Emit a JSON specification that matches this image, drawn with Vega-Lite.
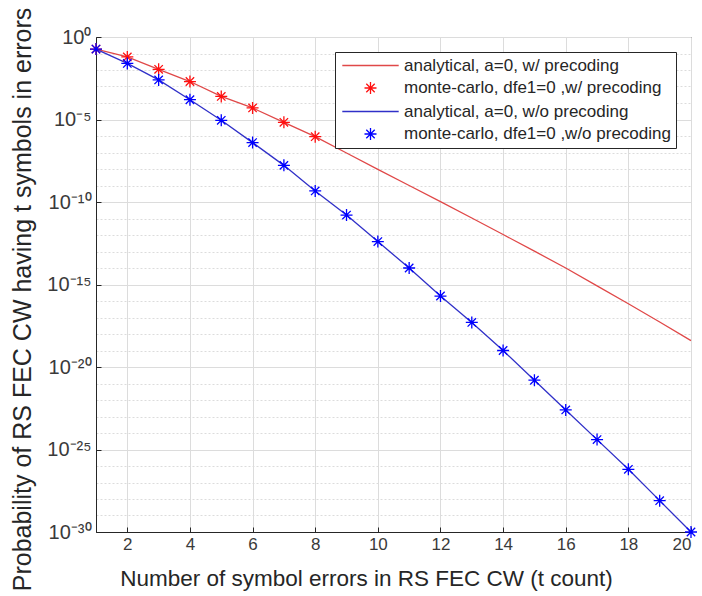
{
  "$schema": "https://vega.github.io/schema/vega-lite/v6.json",
  "width": 595,
  "height": 495,
  "autosize": "none",
  "padding": {"left": 96, "top": 37, "right": 11, "bottom": 64},
  "background": "white",
  "config": {
    "font": "Liberation Sans",
    "view": {"stroke": "#262626", "strokeWidth": 1},
    "legend": {
      "orient": "none", "legendX": 239, "legendY": 15,
      "labelFontSize": 17, "labelColor": "#262626", "labelLimit": 400,
      "strokeColor": "#262626", "fillColor": "white", "padding": 5,
      "symbolStrokeWidth": 1.3, "symbolSize": 144, "rowPadding": 4.5,
      "symbolOffset": 22, "labelOffset": 25
    }
  },
  "data": {"values": [
    {"t": 1, "p": 0.186, "series": "analytical, a=0, w/ precoding"},
    {"t": 2, "p": 0.0617, "series": "analytical, a=0, w/ precoding"},
    {"t": 3, "p": 0.011, "series": "analytical, a=0, w/ precoding"},
    {"t": 4, "p": 2.0e-3, "series": "analytical, a=0, w/ precoding"},
    {"t": 5, "p": 2.51e-4, "series": "analytical, a=0, w/ precoding"},
    {"t": 6, "p": 5.01e-5, "series": "analytical, a=0, w/ precoding"},
    {"t": 7, "p": 6.76e-6, "series": "analytical, a=0, w/ precoding"},
    {"t": 8, "p": 9.12e-7, "series": "analytical, a=0, w/ precoding"},
    {"t": 9, "p": 9.33e-8, "series": "analytical, a=0, w/ precoding"},
    {"t": 10, "p": 9.55e-9, "series": "analytical, a=0, w/ precoding"},
    {"t": 11, "p": 1.0e-9, "series": "analytical, a=0, w/ precoding"},
    {"t": 12, "p": 1.05e-10, "series": "analytical, a=0, w/ precoding"},
    {"t": 13, "p": 1.07e-11, "series": "analytical, a=0, w/ precoding"},
    {"t": 14, "p": 1.07e-12, "series": "analytical, a=0, w/ precoding"},
    {"t": 15, "p": 1.05e-13, "series": "analytical, a=0, w/ precoding"},
    {"t": 16, "p": 1.0e-14, "series": "analytical, a=0, w/ precoding"},
    {"t": 17, "p": 8.3e-16, "series": "analytical, a=0, w/ precoding"},
    {"t": 18, "p": 6.76e-17, "series": "analytical, a=0, w/ precoding"},
    {"t": 19, "p": 5.37e-18, "series": "analytical, a=0, w/ precoding"},
    {"t": 20, "p": 3.98e-19, "series": "analytical, a=0, w/ precoding"},
    {"t": 1, "p": 0.186, "series": "monte-carlo, dfe1=0 ,w/ precoding"},
    {"t": 2, "p": 0.0617, "series": "monte-carlo, dfe1=0 ,w/ precoding"},
    {"t": 3, "p": 0.011, "series": "monte-carlo, dfe1=0 ,w/ precoding"},
    {"t": 4, "p": 2.0e-3, "series": "monte-carlo, dfe1=0 ,w/ precoding"},
    {"t": 5, "p": 2.51e-4, "series": "monte-carlo, dfe1=0 ,w/ precoding"},
    {"t": 6, "p": 5.01e-5, "series": "monte-carlo, dfe1=0 ,w/ precoding"},
    {"t": 7, "p": 6.76e-6, "series": "monte-carlo, dfe1=0 ,w/ precoding"},
    {"t": 8, "p": 9.12e-7, "series": "monte-carlo, dfe1=0 ,w/ precoding"},
    {"t": 1, "p": 0.186, "series": "analytical, a=0, w/o precoding"},
    {"t": 2, "p": 0.0251, "series": "analytical, a=0, w/o precoding"},
    {"t": 3, "p": 2.51e-3, "series": "analytical, a=0, w/o precoding"},
    {"t": 4, "p": 1.58e-4, "series": "analytical, a=0, w/o precoding"},
    {"t": 5, "p": 8.91e-6, "series": "analytical, a=0, w/o precoding"},
    {"t": 6, "p": 3.98e-7, "series": "analytical, a=0, w/o precoding"},
    {"t": 7, "p": 1.66e-8, "series": "analytical, a=0, w/o precoding"},
    {"t": 8, "p": 4.68e-10, "series": "analytical, a=0, w/o precoding"},
    {"t": 9, "p": 1.62e-11, "series": "analytical, a=0, w/o precoding"},
    {"t": 10, "p": 3.98e-13, "series": "analytical, a=0, w/o precoding"},
    {"t": 11, "p": 1.0e-14, "series": "analytical, a=0, w/o precoding"},
    {"t": 12, "p": 2.0e-16, "series": "analytical, a=0, w/o precoding"},
    {"t": 13, "p": 5.01e-18, "series": "analytical, a=0, w/o precoding"},
    {"t": 14, "p": 1.0e-19, "series": "analytical, a=0, w/o precoding"},
    {"t": 15, "p": 1.58e-21, "series": "analytical, a=0, w/o precoding"},
    {"t": 16, "p": 2.51e-23, "series": "analytical, a=0, w/o precoding"},
    {"t": 17, "p": 3.98e-25, "series": "analytical, a=0, w/o precoding"},
    {"t": 18, "p": 6.31e-27, "series": "analytical, a=0, w/o precoding"},
    {"t": 19, "p": 7.94e-29, "series": "analytical, a=0, w/o precoding"},
    {"t": 20, "p": 1.0e-30, "series": "analytical, a=0, w/o precoding"},
    {"t": 1, "p": 0.186, "series": "monte-carlo, dfe1=0 ,w/o precoding"},
    {"t": 2, "p": 0.0251, "series": "monte-carlo, dfe1=0 ,w/o precoding"},
    {"t": 3, "p": 2.51e-3, "series": "monte-carlo, dfe1=0 ,w/o precoding"},
    {"t": 4, "p": 1.58e-4, "series": "monte-carlo, dfe1=0 ,w/o precoding"},
    {"t": 5, "p": 8.91e-6, "series": "monte-carlo, dfe1=0 ,w/o precoding"},
    {"t": 6, "p": 3.98e-7, "series": "monte-carlo, dfe1=0 ,w/o precoding"},
    {"t": 7, "p": 1.66e-8, "series": "monte-carlo, dfe1=0 ,w/o precoding"},
    {"t": 8, "p": 4.68e-10, "series": "monte-carlo, dfe1=0 ,w/o precoding"},
    {"t": 9, "p": 1.62e-11, "series": "monte-carlo, dfe1=0 ,w/o precoding"},
    {"t": 10, "p": 3.98e-13, "series": "monte-carlo, dfe1=0 ,w/o precoding"},
    {"t": 11, "p": 1.0e-14, "series": "monte-carlo, dfe1=0 ,w/o precoding"},
    {"t": 12, "p": 2.0e-16, "series": "monte-carlo, dfe1=0 ,w/o precoding"},
    {"t": 13, "p": 5.01e-18, "series": "monte-carlo, dfe1=0 ,w/o precoding"},
    {"t": 14, "p": 1.0e-19, "series": "monte-carlo, dfe1=0 ,w/o precoding"},
    {"t": 15, "p": 1.58e-21, "series": "monte-carlo, dfe1=0 ,w/o precoding"},
    {"t": 16, "p": 2.51e-23, "series": "monte-carlo, dfe1=0 ,w/o precoding"},
    {"t": 17, "p": 3.98e-25, "series": "monte-carlo, dfe1=0 ,w/o precoding"},
    {"t": 18, "p": 6.31e-27, "series": "monte-carlo, dfe1=0 ,w/o precoding"},
    {"t": 19, "p": 7.94e-29, "series": "monte-carlo, dfe1=0 ,w/o precoding"},
    {"t": 20, "p": 1.0e-30, "series": "monte-carlo, dfe1=0 ,w/o precoding"}
  ]},
  "encoding": {
    "x": {
      "field": "t", "type": "quantitative",
      "scale": {"domain": [1, 20], "nice": false, "zero": false},
      "axis": {
        "title": "Number of symbol errors in RS FEC CW (t count)",
        "values": [2, 4, 6, 8, 10, 12, 14, 16, 18, 20],
        "format": "d",
        "labelFontSize": 17, "labelColor": "#3a3a3a",
        "titleFontSize": 22.5, "titleFontWeight": "normal", "titleColor": "#262626",
        "titleX": 270, "titleY": 53, "titleBaseline": "alphabetic",
        "labelPadding": 9,
        "tickSize": -5, "tickColor": "#262626",
        "domainColor": "#262626",
        "grid": true, "gridColor": "#dcdcdc", "gridWidth": 1
      }
    },
    "y": {
      "field": "p", "type": "quantitative",
      "scale": {"type": "log", "domain": [1e-30, 1], "nice": false},
      "axis": {
        "title": "Probability of RS FEC CW having t symbols in errors",
        "values": [1, 1e-1, 1e-2, 1e-3, 1e-4, 1e-5, 1e-6, 1e-7, 1e-8, 1e-9, 1e-10, 1e-11, 1e-12, 1e-13, 1e-14, 1e-15, 1e-16, 1e-17, 1e-18, 1e-19, 1e-20, 1e-21, 1e-22, 1e-23, 1e-24, 1e-25, 1e-26, 1e-27, 1e-28, 1e-29, 1e-30],
        "labelExpr": "round(log(datum.value)/LN10) == 0 ? '10⁰' : round(log(datum.value)/LN10) == -5 ? '10⁻⁵' : round(log(datum.value)/LN10) == -10 ? '10⁻¹⁰' : round(log(datum.value)/LN10) == -15 ? '10⁻¹⁵' : round(log(datum.value)/LN10) == -20 ? '10⁻²⁰' : round(log(datum.value)/LN10) == -25 ? '10⁻²⁵' : round(log(datum.value)/LN10) == -30 ? '10⁻³⁰' : ''",
        "labelFontSize": 20, "labelColor": "#3a3a3a",
        "labelPadding": 10,
        "titleFontSize": 25, "titleFontWeight": "normal", "titleColor": "#262626",
        "titleX": -66, "titleY": 262, "titleBaseline": "alphabetic",
        "tickSize": -5, "tickColor": "#262626",
        "domainColor": "#262626",
        "grid": true, "gridColor": "#dcdcdc", "gridWidth": 1,
        "gridDash": {"condition": {"test": "round(log(datum.value)/LN10) % 5 != 0", "value": [2, 2]}, "value": []},
        "tickOpacity": {"condition": {"test": "round(log(datum.value)/LN10) % 5 != 0", "value": 0}, "value": 1}
      }
    }
  },
  "layer": [
    {
      "transform": [{"filter": "indexof(datum.series, 'analytical') == 0"}],
      "mark": {"type": "line", "strokeWidth": 1.3},
      "encoding": {
        "color": {"field": "series", "type": "nominal", "title": null,
          "scale": {"domain": ["analytical, a=0, w/ precoding", "monte-carlo, dfe1=0 ,w/ precoding", "analytical, a=0, w/o precoding", "monte-carlo, dfe1=0 ,w/o precoding"],
                    "range": ["#e04848", "#ff1010", "#3030c8", "#0000ff"]}}
      }
    },
    {
      "transform": [{"filter": "indexof(datum.series, 'monte-carlo') == 0"}],
      "mark": {"type": "point", "filled": false, "strokeWidth": 1.3, "opacity": 1, "size": 144},
      "encoding": {
        "color": {"field": "series", "type": "nominal", "title": null,
          "scale": {"domain": ["analytical, a=0, w/ precoding", "monte-carlo, dfe1=0 ,w/ precoding", "analytical, a=0, w/o precoding", "monte-carlo, dfe1=0 ,w/o precoding"],
                    "range": ["#e04848", "#ff1010", "#3030c8", "#0000ff"]}},
        "shape": {"field": "series", "type": "nominal", "title": null,
          "scale": {"domain": ["analytical, a=0, w/ precoding", "monte-carlo, dfe1=0 ,w/ precoding", "analytical, a=0, w/o precoding", "monte-carlo, dfe1=0 ,w/o precoding"],
                    "range": ["M-4.7,0L4.7,0", "M0,-1L0,1M-1,0L1,0M-0.7,-0.7L0.7,0.7M-0.7,0.7L0.7,-0.7", "M-4.7,0L4.7,0", "M0,-1L0,1M-1,0L1,0M-0.7,-0.7L0.7,0.7M-0.7,0.7L0.7,-0.7"]}}
      }
    }
  ]
}
